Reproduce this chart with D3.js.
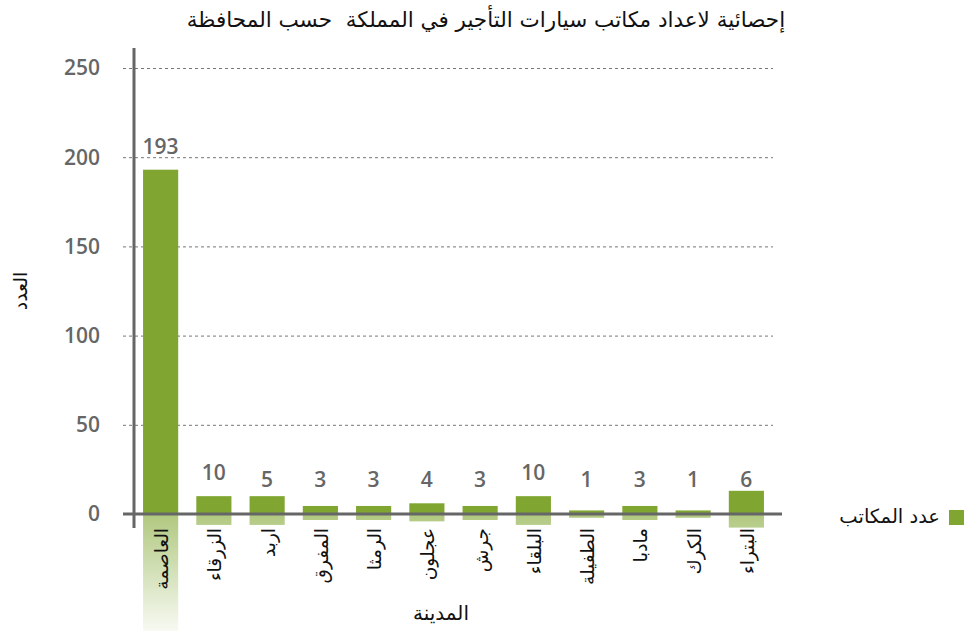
<!DOCTYPE html>
<html lang="ar">
<head>
<meta charset="utf-8">
<script src="https://cdn.jsdelivr.net/npm/d3@7/dist/d3.min.js"></script>
<style>
  body { margin: 0; background: #fff; }
</style>
</head>
<body>
<div id="wrapper"></div>
<script>
// data
const cities = ["العاصمة", "الزرقاء", "اربد", "المفرق", "الرمثا", "عجلون", "جرش", "البلقاء", "الطفيلة", "مادبا", "الكرك", "البتراء"]
// numbers printed above the bars
const officeCounts = [193, 10, 5, 3, 3, 4, 3, 10, 1, 3, 1, 6]
// heights the bars are actually drawn at
const barHeights = [193, 10, 10, 4.5, 4.5, 6, 4.5, 10, 2, 4.5, 2, 13]
const yTicks = [0, 50, 100, 150, 200, 250]

const chartTitle = "إحصائية لاعداد مكاتب سيارات التأجير في المملكة  حسب المحافظة"
const yTitle = "العدد"
const xTitle = "المدينة"
const legendLabel = "عدد المكاتب"

function drawChart() {
  const dataset = cities.map((c, i) => ({ city: c, count: officeCounts[i], bar: barHeights[i] }))

  let dimensions = {
    width: 966,
    height: 631,
    margin: { top: 68, right: 193, bottom: 117, left: 134 },
  }
  dimensions.boundedWidth = dimensions.width - dimensions.margin.left - dimensions.margin.right
  dimensions.boundedHeight = dimensions.height - dimensions.margin.top - dimensions.margin.bottom

  const green = "#80a631"
  const axisColor = "#666666"
  const numFont = "'Open Sans', sans-serif"
  const arFont = "'DejaVu Sans', sans-serif"

  const wrapper = d3.select("#wrapper")
    .append("svg")
      .attr("width", dimensions.width)
      .attr("height", dimensions.height)
      .style("display", "block")

  const bounds = wrapper.append("g")
      .attr("transform", `translate(${dimensions.margin.left}, ${dimensions.margin.top})`)

  // accessors and scales
  const xAccessor = d => d.city
  const barAccessor = d => d.bar
  const countAccessor = d => d.count

  const xScale = d3.scaleBand()
    .domain(dataset.map(xAccessor))
    .range([0, dimensions.boundedWidth])
    .paddingInner(0.34)
    .paddingOuter(0.17)

  const yScale = d3.scaleLinear()
    .domain([0, 250])
    .range([dimensions.boundedHeight, 0])

  // fading reflection below the axis, in the bounds' user space
  const grad = wrapper.append("defs").append("linearGradient")
      .attr("id", "reflect")
      .attr("gradientUnits", "userSpaceOnUse")
      .attr("x1", 0).attr("x2", 0)
      .attr("y1", yScale(0)).attr("y2", dimensions.height - dimensions.margin.top)
  grad.append("stop").attr("offset", 0).attr("stop-color", green).attr("stop-opacity", 0.62)
  grad.append("stop").attr("offset", 1).attr("stop-color", green).attr("stop-opacity", 0.06)

  // gridlines
  bounds.selectAll(".grid")
      .data(yTicks.filter(t => t > 0))
    .enter().append("line")
      .attr("class", "grid")
      .attr("x1", -11)
      .attr("x2", 639)
      .attr("y1", d => yScale(d) + 0.5)
      .attr("y2", d => yScale(d) + 0.5)
      .attr("stroke", "#777")
      .attr("stroke-width", 1)
      .attr("stroke-dasharray", "3,3")

  // tick labels
  bounds.selectAll(".tick-label")
      .data(yTicks)
    .enter().append("text")
      .attr("class", "tick-label")
      .attr("x", -34)
      .attr("y", d => yScale(d))
      .attr("dy", "0.35em")
      .attr("text-anchor", "end")
      .attr("fill", axisColor)
      .style("font-family", numFont)
      .style("font-size", "21px")
      .style("font-weight", "600")
      .text(d => d)

  // reflections under the axis
  bounds.selectAll(".reflect")
      .data(dataset)
    .enter().append("rect")
      .attr("class", "reflect")
      .attr("x", d => xScale(xAccessor(d)))
      .attr("y", yScale(0))
      .attr("width", xScale.bandwidth())
      .attr("height", d => (yScale(0) - yScale(barAccessor(d))) * 0.5 + 2)
      .attr("fill", "url(#reflect)")

  // bars
  bounds.selectAll(".bar")
      .data(dataset)
    .enter().append("rect")
      .attr("class", "bar")
      .attr("x", d => xScale(xAccessor(d)))
      .attr("y", d => yScale(barAccessor(d)))
      .attr("width", xScale.bandwidth())
      .attr("height", d => yScale(0) - yScale(barAccessor(d)))
      .attr("fill", green)

  // value labels
  bounds.selectAll(".value")
      .data(dataset)
    .enter().append("text")
      .attr("class", "value")
      .attr("x", d => xScale(xAccessor(d)) + xScale.bandwidth() / 2)
      .attr("y", d => Math.min(yScale(countAccessor(d)) - 16, yScale(0) - 27))
      .attr("text-anchor", "middle")
      .attr("fill", axisColor)
      .style("font-family", numFont)
      .style("font-size", "21px")
      .style("font-weight", "600")
      .text(countAccessor)

  // axes lines
  bounds.append("line")
      .attr("x1", 0).attr("x2", 0)
      .attr("y1", -20).attr("y2", yScale(0) + 14)
      .attr("stroke", axisColor)
      .attr("stroke-width", 3)

  bounds.append("line")
      .attr("x1", -11).attr("x2", 648)
      .attr("y1", yScale(0)).attr("y2", yScale(0))
      .attr("stroke", axisColor)
      .attr("stroke-width", 3)

  // category labels, rotated
  bounds.selectAll(".city")
      .data(dataset)
    .enter().append("text")
      .attr("class", "city")
      .attr("transform", d => `translate(${xScale(xAccessor(d)) + xScale.bandwidth() / 2 + 1}, ${yScale(0) + 14}) rotate(-90)`)
      .attr("text-anchor", "end")
      .attr("dominant-baseline", "central")
      .attr("fill", "#111")
      .style("font-family", arFont)
      .style("font-size", "18.5px")
      .text(xAccessor)

  // titles
  wrapper.append("text")
      .attr("x", 486)
      .attr("y", 27)
      .attr("text-anchor", "middle")
      .attr("fill", "#111")
      .style("font-family", arFont)
      .style("font-size", "21.5px")
      .style("white-space", "pre")
      .text(chartTitle)

  wrapper.append("text")
      .attr("transform", "translate(20, 291) rotate(-90)")
      .attr("text-anchor", "middle")
      .attr("dominant-baseline", "central")
      .attr("fill", "#111")
      .style("font-family", arFont)
      .style("font-size", "19px")
      .text(yTitle)

  wrapper.append("text")
      .attr("x", 441)
      .attr("y", 620)
      .attr("text-anchor", "middle")
      .attr("fill", "#111")
      .style("font-family", arFont)
      .style("font-size", "20px")
      .text(xTitle)

  // legend
  const legend = wrapper.append("g")
      .attr("transform", "translate(949, 510)")
  legend.append("rect")
      .attr("width", 15)
      .attr("height", 15)
      .attr("fill", green)
  legend.append("text")
      .attr("x", -9)
      .attr("y", 13)
      .attr("text-anchor", "end")
      .attr("fill", "#111")
      .style("font-family", arFont)
      .style("font-size", "19.5px")
      .text(legendLabel)
}

drawChart()
</script>
</body>
</html>
